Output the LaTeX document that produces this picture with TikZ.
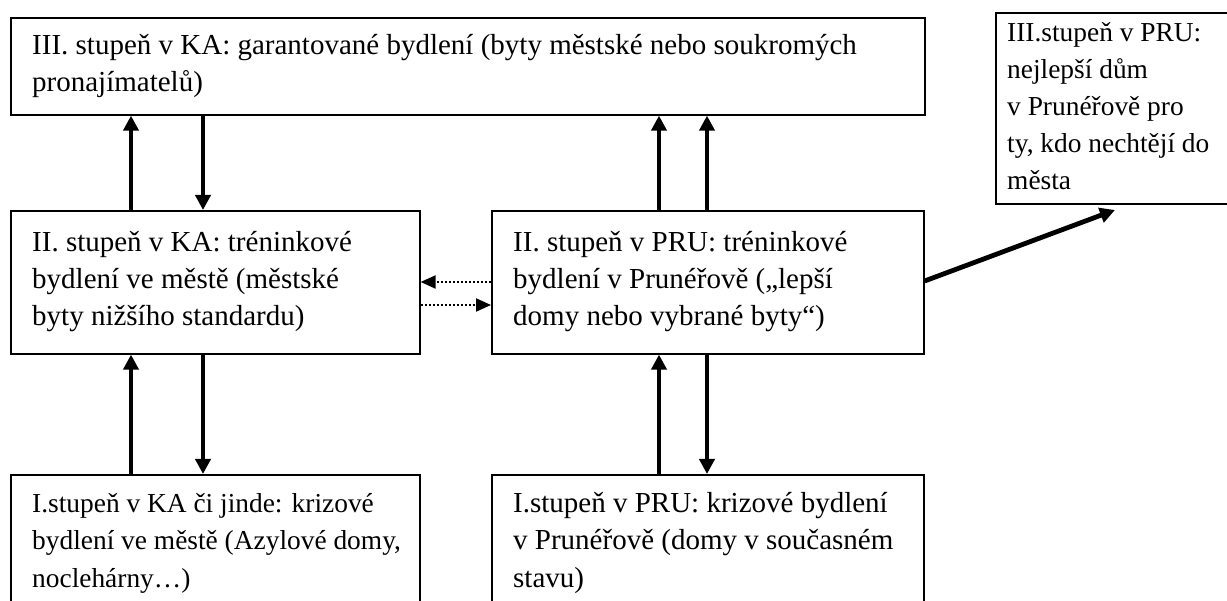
\documentclass[tikz,border=0pt]{standalone}
\usepackage{fontspec}
\setmainfont{Liberation Serif}
\usetikzlibrary{arrows.meta}
\begin{document}
\begin{tikzpicture}[x=1pt,y=-1pt,
  box/.style={draw=black,line width=1.6pt,rectangle,inner sep=0pt,anchor=north west},
  txt/.style={anchor=base west,inner sep=0pt,font=\fontsize{29}{37}\selectfont},
  smalltxt/.style={txt,font=\fontsize{27.4}{37}\selectfont},
  bigarrow/.style={line width=4.8pt,-{Triangle[length=15pt,width=15pt]}},
  dotarrow/.style={line width=2pt,dash pattern=on 2pt off 2pt,-{Triangle[length=15pt,width=13pt]}}]
\useasboundingbox (0,0) rectangle (1227,601);
\fill[white] (0,0) rectangle (1227,601);
% boxes
\node[box,minimum width=914pt,minimum height=97pt] (b3ka) at (10,17) {};
\node[box,minimum width=240pt,minimum height=191pt] (b3pru) at (995,12) {};
\node[box,minimum width=409pt,minimum height=143pt] (b2ka) at (10,210) {};
\node[box,minimum width=432pt,minimum height=143pt] (b2pru) at (491,210) {};
\node[box,minimum width=409pt,minimum height=160pt] (b1ka) at (10,474) {};
\node[box,minimum width=432pt,minimum height=160pt] (b1pru) at (491,474) {};
% texts
\node[txt] (t3ka) at (32,55) {\parbox[t]{900pt}{III. stupeň v KA: garantované bydlení (byty městské nebo soukromých\\pronajímatelů)}};
\node[smalltxt] (t3pru) at (1007,42) {\parbox[t]{230pt}{III.stupeň v PRU:\\nejlepší dům\\v Prunéřově pro\\ty, kdo nechtějí do\\města}};
\node[txt] (t2ka) at (32,252) {\parbox[t]{400pt}{II. stupeň v KA: tréninkové\\bydlení ve městě (městské\\byty nižšího standardu)}};
\node[txt] (t2pru) at (513,252) {\parbox[t]{420pt}{II. stupeň v PRU: tréninkové\\bydlení v Prunéřově („lepší\\domy nebo vybrané byty“)}};
\node[smalltxt] (t1ka) at (32,513) {\parbox[t]{400pt}{I.stupeň v KA či jinde: krizové\\bydlení ve městě (Azylové domy,\\noclehárny…)}};
\node[txt] (t1pru) at (513,513) {\parbox[t]{420pt}{I.stupeň v PRU: krizové bydlení\\v Prunéřově (domy v současném\\stavu)}};
% guide coordinates
\coordinate (xa) at (131,0);
\coordinate (xb) at (203,0);
\coordinate (xc) at (659,0);
\coordinate (xd) at (707,0);
\coordinate (ya) at (0,282);
\coordinate (yb) at (0,305);
\coordinate (yd) at (0,281);
\coordinate (tip) at (1115,210);
% vertical arrows
\draw[bigarrow] (b2ka.north -| xa) -- (b3ka.south -| xa);
\draw[bigarrow] (b3ka.south -| xb) -- (b2ka.north -| xb);
\draw[bigarrow] (b1ka.north -| xa) -- (b2ka.south -| xa);
\draw[bigarrow] (b2ka.south -| xb) -- (b1ka.north -| xb);
\draw[bigarrow] (b2pru.north -| xc) -- (b3ka.south -| xc);
\draw[bigarrow] (b2pru.north -| xd) -- (b3ka.south -| xd);
\draw[bigarrow] (b1pru.north -| xc) -- (b2pru.south -| xc);
\draw[bigarrow] (b2pru.south -| xd) -- (b1pru.north -| xd);
% dotted arrows
\draw[dotarrow] (b2pru.west |- ya) -- (b2ka.east |- ya);
\draw[dotarrow] (b2ka.east |- yb) -- (b2pru.west |- yb);
% diagonal
\draw[bigarrow] (b2pru.east |- yd) -- (tip);
\end{tikzpicture}
\end{document}
